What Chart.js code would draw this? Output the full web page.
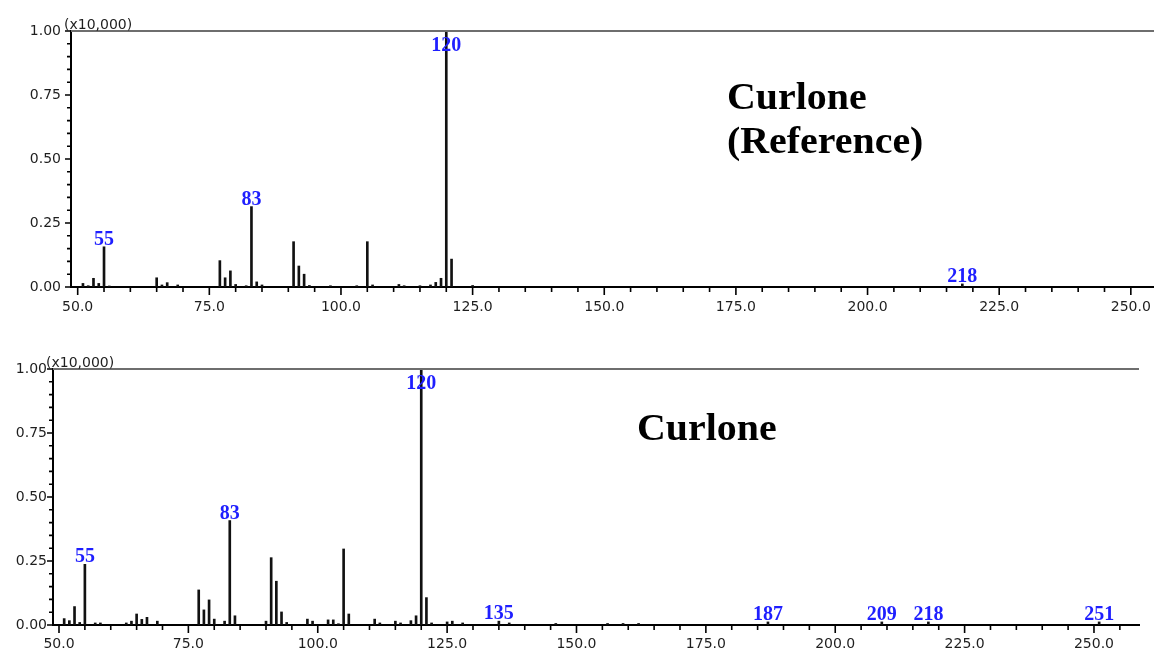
<!DOCTYPE html>
<html>
<head>
<meta charset="utf-8">
<script src="https://cdn.jsdelivr.net/npm/chart.js@4/dist/chart.umd.min.js"></script>
<style>
  html, body { margin: 0; padding: 0; background: #fff; }
  #wrap { position: relative; width: 1154px; height: 652px; overflow: hidden; }
  canvas { position: absolute; left: 0; }
  .title {
    position: absolute; font-family: "Liberation Serif", serif; font-weight: bold;
    font-size: 38px; line-height: 44px; color: #000; white-space: nowrap;
    transform-origin: left top; transform: scaleX(1.05);
  }
</style>
</head>
<body>
<div id="wrap">
  <canvas id="topChart" width="1154" height="326" style="top:0"></canvas>
  <canvas id="bottomChart" width="1154" height="326" style="top:326px"></canvas>
  <div class="title" style="left:727px; top:74px">Curlone<br>(Reference)</div>
  <div class="title" style="left:637px; top:405px">Curlone</div>
</div>
<script>
// DATA (m/z, relative intensity x10,000)
const topMz = [51, 52, 53, 54, 55, 56, 65, 66, 67, 69, 77, 78, 79, 80, 82, 83, 84, 85,
    91, 92, 93, 94, 98, 103, 105, 106, 111, 112, 115, 117, 118, 119, 120, 121, 125, 218]
const topIntensity = [0.014, 0.005, 0.034, 0.014, 0.157, 0.004, 0.036, 0.008, 0.017, 0.008,
    0.103, 0.036, 0.063, 0.01, 0.005, 0.314, 0.02, 0.008, 0.177, 0.082, 0.05, 0.006,
    0.005, 0.005, 0.177, 0.008, 0.01, 0.005, 0.005, 0.008, 0.018, 0.034, 1.0, 0.109, 0.006, 0.012]
const topPeakLabels = [55, 83, 120, 218]

const bottomMz = [51, 52, 53, 54, 55, 57, 58, 63, 64, 65, 66, 67, 69, 77, 78, 79, 80, 82, 83, 84,
    90, 91, 92, 93, 94, 98, 99, 102, 103, 104, 105, 106, 111, 112, 115, 116, 118, 119, 120, 121,
    122, 125, 126, 128, 135, 137, 146, 156, 159, 162, 187, 209, 218, 251]
const bottomIntensity = [0.025, 0.017, 0.072, 0.01, 0.237, 0.008, 0.008, 0.008, 0.015, 0.043,
    0.022, 0.03, 0.015, 0.137, 0.059, 0.098, 0.023, 0.015, 0.408, 0.036, 0.015, 0.263, 0.171,
    0.051, 0.01, 0.023, 0.015, 0.02, 0.02, 0.005, 0.297, 0.043, 0.023, 0.008, 0.015, 0.008,
    0.017, 0.036, 1.0, 0.107, 0.008, 0.012, 0.015, 0.008, 0.015, 0.008, 0.006, 0.006, 0.006,
    0.006, 0.012, 0.012, 0.012, 0.012]
const bottomPeakLabels = [55, 83, 120, 135, 187, 209, 218, 251]

const scaleNote = '(x10,000)'
const xMajorStep = 25, xMinorStep = 5
const yMajorStep = 0.25, yMinorStep = 0.05


// UTILS
const isMultiple = (v, step) => Math.abs(v / step - Math.round(v / step)) < 1e-6

Chart.defaults.font.family = '"DejaVu Sans", sans-serif'
Chart.defaults.font.size = 14
Chart.defaults.color = '#1e1e1e'


// PLUGIN: frame line, tick marks, peak labels
const spectrumDecor = {
    id: 'spectrumDecor',
    afterDraw(chart, args, opts) {
        const {ctx, chartArea: a, scales: {x, y}} = chart
        ctx.save()

        ctx.strokeStyle = '#6e6e6e'
        ctx.lineWidth = 2
        ctx.beginPath()
        ctx.moveTo(a.left, a.top)
        ctx.lineTo(a.right, a.top)
        ctx.stroke()

        ctx.strokeStyle = '#000'
        ctx.lineWidth = 1.6
        ctx.beginPath()
        x.ticks.forEach(t => {
            const px = x.getPixelForValue(t.value)
            const len = isMultiple(t.value, xMajorStep) ? 8 : 5
            ctx.moveTo(px, a.bottom)
            ctx.lineTo(px, a.bottom + len)
        })
        y.ticks.forEach(t => {
            const py = y.getPixelForValue(t.value)
            const len = isMultiple(t.value, yMajorStep) ? 6 : 4
            ctx.moveTo(a.left, py)
            ctx.lineTo(a.left - len, py)
        })
        ctx.stroke()

        // (x10,000)
        ctx.fillStyle = '#1e1e1e'
        ctx.font = '14px "DejaVu Sans", sans-serif'
        ctx.textAlign = 'left'
        ctx.textBaseline = 'alphabetic'
        ctx.fillText(scaleNote, a.left - 7, a.top - 2)

        // peak labels
        ctx.fillStyle = '#1f1fff'
        ctx.font = 'bold 20px "Liberation Serif", serif'
        ctx.textAlign = 'center'
        opts.labels.forEach(m => {
            const v = opts.intensity[opts.mz.indexOf(m)]
            const px = x.getPixelForValue(m)
            let base = y.getPixelForValue(v) - 2
            if (base - 15 < a.top) base = a.top + 20
            ctx.fillText(String(m), px, base)
        })
        ctx.restore()
    }
}


const makeSpectrum = (id, mz, intensity, labels, geo) => new Chart(document.getElementById(id), {
    type: 'bar',
    data: {
        datasets: [{
            data: mz.map((m, i) => ({x: m, y: intensity[i]})),
            backgroundColor: '#111',
            barThickness: 2,
        }]
    },
    options: {
        responsive: false,
        animation: false,
        layout: {padding: {top: geo.top, right: geo.right, left: 0, bottom: 0}},
        plugins: {
            legend: {display: false},
            tooltip: {enabled: false},
            spectrumDecor: {mz, intensity, labels},
        },
        scales: {
            x: {
                type: 'linear',
                offset: false,
                min: geo.xMin, max: geo.xMax,
                afterFit: s => { s.height = geo.xHeight; s.paddingLeft = 0; s.paddingRight = 0 },
                grid: {display: false, drawTicks: false, offset: false},
                border: {display: true, color: '#000', width: 2},
                ticks: {
                    stepSize: xMinorStep, includeBounds: false, autoSkip: false, maxRotation: 0,
                    padding: geo.xPad,
                    callback: v => isMultiple(v, xMajorStep) ? v.toFixed(1) : '',
                },
            },
            y: {
                min: 0, max: 1,
                afterFit: s => { s.width = geo.yWidth },
                grid: {display: false, drawTicks: false},
                border: {display: true, color: '#000', width: 2},
                ticks: {
                    stepSize: yMinorStep, autoSkip: false, padding: geo.yPad,
                    callback: v => isMultiple(v, yMajorStep) ? v.toFixed(2) : '',
                },
            },
        },
    },
    plugins: [spectrumDecor],
})


// MAIN
makeSpectrum('topChart', topMz, topIntensity, topPeakLabels,
    {top: 31, right: 0, xHeight: 39, yWidth: 71, xMin: 48.73, xMax: 254.4, xPad: 12, yPad: 10})
makeSpectrum('bottomChart', bottomMz, bottomIntensity, bottomPeakLabels,
    {top: 43, right: 15, xHeight: 27, yWidth: 53, xMin: 48.84, xMax: 258.7, xPad: 11, yPad: 6})
</script>
</body>
</html>
